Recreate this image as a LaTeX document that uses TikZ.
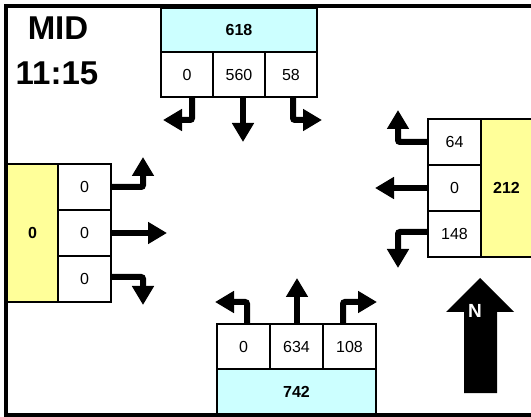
\documentclass[tikz,border=0pt]{standalone}
\usepackage{fontspec}
\setmainfont{Liberation Sans}
\usetikzlibrary{arrows.meta}
\definecolor{cyanbox}{HTML}{CCFFFF}
\definecolor{yellowbox}{HTML}{FFFF99}
\tikzset{
  cellbox/.style={draw=black, line width=1.5pt, fill=white, inner sep=0pt,
    font=\fontsize{16}{19}\selectfont},
  totbox/.style={cellbox, font=\fontsize{16}{19}\selectfont\bfseries},
  flowarrow/.style={line width=6pt, rounded corners=2pt,
    -{Triangle[length=19pt,width=21pt]}},
}
\begin{document}
\begin{tikzpicture}[x=1pt,y=-1pt]
\clip (0,0) rectangle (531,417);
\useasboundingbox (0,0) rectangle (531,417);
\fill[white] (0,0) rectangle (531,417);
% frame
\draw[line width=4pt] (6,6) rectangle (545,415);
% title
\node[font=\fontsize{33}{36}\selectfont\bfseries] (mid) at (58,28) {MID};
\node[font=\fontsize{33}{36}\selectfont\bfseries] (time) at (57,73) {11:15};

% top approach
\node[totbox, fill=cyanbox, minimum width=156, minimum height=44] (t618) at (239,30) {618};
\node[cellbox, minimum width=52, minimum height=45] (tL) at (187,74.5) {0};
\node[cellbox, minimum width=52, minimum height=45] (tT) at (239,74.5) {560};
\node[cellbox, minimum width=52, minimum height=45] (tR) at (291,74.5) {58};
\coordinate (tLend) at (163,120);
\coordinate (tTend) at (243,142);
\coordinate (tRend) at (322,120);
\draw[flowarrow] ([xshift=5pt]tL.south) |- (tLend);
\draw[flowarrow] ([xshift=4pt]tT.south) -- (tTend);
\draw[flowarrow] ([xshift=2pt]tR.south) |- (tRend);

% left approach
\node[totbox, fill=yellowbox, minimum width=51, minimum height=138] (l0) at (32.5,233) {0};
\node[cellbox, minimum width=53, minimum height=46] (lL) at (84.5,187) {0};
\node[cellbox, minimum width=53, minimum height=46] (lT) at (84.5,233) {0};
\node[cellbox, minimum width=53, minimum height=46] (lR) at (84.5,279) {0};
\coordinate (lLend) at (143,157);
\coordinate (lTend) at (167,233);
\coordinate (lRend) at (143,305);
\draw[flowarrow] (lL.east) -| (lLend);
\draw[flowarrow] (lT.east) -- (lTend);
\draw[flowarrow] ([yshift=2pt]lR.east) -| (lRend);

% right approach
\node[totbox, fill=yellowbox, minimum width=59, minimum height=138] (r212) at (510.5,188) {\hspace*{-8pt}212};
\node[cellbox, minimum width=53, minimum height=46] (rR) at (454.5,142) {64};
\node[cellbox, minimum width=53, minimum height=46] (rT) at (454.5,188) {0};
\node[cellbox, minimum width=53, minimum height=46] (rL) at (454.5,234) {148};
\coordinate (rRend) at (398,110);
\coordinate (rTend) at (375,188);
\coordinate (rLend) at (398,268);
\draw[flowarrow] (rR.west) -| (rRend);
\draw[flowarrow] (rT.west) -- (rTend);
\draw[flowarrow] ([yshift=2pt]rL.west) -| (rLend);

% bottom approach
\node[totbox, fill=cyanbox, minimum width=159, minimum height=45] (b742) at (296.5,391.5) {742};
\node[cellbox, minimum width=53, minimum height=45] (bL) at (243.5,346.5) {0};
\node[cellbox, minimum width=53, minimum height=45] (bT) at (296.5,346.5) {634};
\node[cellbox, minimum width=53, minimum height=45] (bR) at (349.5,346.5) {108};
\coordinate (bLend) at (215,302);
\coordinate (bTend) at (297,278);
\coordinate (bRend) at (377,302);
\draw[flowarrow] ([xshift=3.5pt]bL.north) |- (bLend);
\draw[flowarrow] ([xshift=0.5pt]bT.north) -- (bTend);
\draw[flowarrow] ([xshift=-6.5pt]bR.north) |- (bRend);

% north arrow
\fill[black] (464,393) -- (464,312) -- (446,312) -- (480,278) -- (514,312)
  -- (497,312) -- (497,393) -- cycle;
\node[text=white, font=\fontsize{19}{21}\selectfont\bfseries] (north) at (475,311) {N};
\end{tikzpicture}
\end{document}
